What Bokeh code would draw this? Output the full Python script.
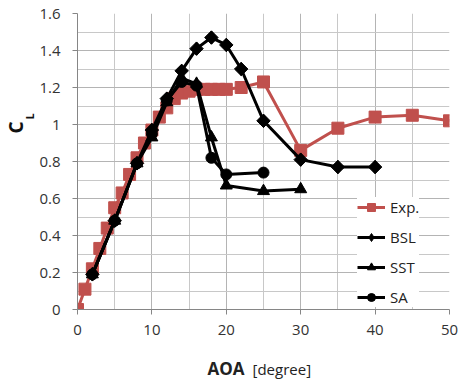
import math
from bokeh.plotting import figure
from bokeh.models import (Range1d, FixedTicker, CustomJSTickFormatter, Label,
                          Legend, LegendItem)
from bokeh.embed import file_html
from bokeh.resources import INLINE

# ---- data ----
exp_aoa = [0, 1, 2, 3, 4, 5, 6, 7, 8, 9, 10, 11, 12, 13, 14, 15, 16, 17, 18, 19, 20, 22, 25, 30, 35, 40, 45, 50]
exp_cl = [0.0, 0.11, 0.22, 0.33, 0.44, 0.55, 0.63, 0.73, 0.82, 0.90, 0.97, 1.04, 1.09, 1.14, 1.17, 1.18, 1.19, 1.19, 1.19, 1.19, 1.19, 1.20, 1.23, 0.86, 0.98, 1.04, 1.05, 1.02]

bsl_aoa = [2, 5, 8, 10, 12, 14, 16, 18, 20, 22, 25, 30, 35, 40]
bsl_cl = [0.19, 0.48, 0.79, 0.97, 1.14, 1.29, 1.41, 1.47, 1.43, 1.30, 1.02, 0.81, 0.77, 0.77]

sst_aoa = [2, 5, 8, 10, 12, 14, 16, 18, 20, 25, 30]
sst_cl = [0.19, 0.48, 0.79, 0.93, 1.12, 1.25, 1.22, 0.93, 0.67, 0.64, 0.65]

sa_aoa = [2, 5, 8, 10, 12, 14, 16, 18, 20, 25]
sa_cl = [0.19, 0.48, 0.79, 0.95, 1.13, 1.23, 1.21, 0.82, 0.73, 0.74]

x_ticks = [0, 10, 20, 30, 40, 50]
x_minor = [5, 15, 25, 35, 45]
y_ticks = [0, 0.2, 0.4, 0.6, 0.8, 1.0, 1.2, 1.4, 1.6]
y_minor = [0.1, 0.3, 0.5, 0.7, 0.9, 1.1, 1.3, 1.5]

RED = "#C0504D"
FONT = "Open Sans"

p = figure(width=468, height=380, output_backend="svg", toolbar_location=None,
           x_range=Range1d(0, 50), y_range=Range1d(0, 1.6),
           min_border_left=77, min_border_right=19, min_border_top=13,
           min_border_bottom=71)
p.outline_line_color = None

# axes
for ax in (p.xaxis[0], p.yaxis[0]):
    ax.axis_line_color = "#868686"
    ax.major_tick_line_color = "#868686"
    ax.major_tick_in = 0
    ax.major_tick_out = 5
    ax.minor_tick_line_color = None
    ax.major_label_text_font = FONT
    ax.major_label_text_font_size = "15px"
    ax.major_label_text_color = "#333333"

p.xaxis.ticker = FixedTicker(ticks=x_ticks, minor_ticks=x_minor)
p.yaxis.ticker = FixedTicker(ticks=y_ticks, minor_ticks=y_minor)
p.yaxis.formatter = CustomJSTickFormatter(code="return Number(tick.toFixed(1)).toString();")
p.xaxis.major_label_standoff = 10
p.yaxis.major_label_standoff = 12

p.xgrid.grid_line_color = "#b4b4b4"
p.ygrid.grid_line_color = "#b4b4b4"
p.xgrid.minor_grid_line_color = "#c8c8c8"
p.ygrid.minor_grid_line_color = "#c8c8c8"

# series
l_exp = p.line(exp_aoa, exp_cl, line_color=RED, line_width=3)
s_exp = p.scatter(exp_aoa, exp_cl, marker="square", size=12, color=RED)

l_bsl = p.line(bsl_aoa, bsl_cl, line_color="black", line_width=3)
s_bsl_key = p.scatter(bsl_aoa, bsl_cl, marker="diamond", size=13, color="black")
s_bsl = p.scatter(bsl_aoa, bsl_cl, marker="square", angle=math.pi / 4, size=9.5, color="black")

l_sst = p.line(sst_aoa, sst_cl, line_color="black", line_width=3)
s_sst = p.scatter(sst_aoa, sst_cl, marker="triangle", size=12, color="black")

l_sa = p.line(sa_aoa, sa_cl, line_color="black", line_width=3)
s_sa = p.scatter(sa_aoa, sa_cl, marker="circle", size=11, color="black")

legend = Legend(items=[
    LegendItem(label="Exp.", renderers=[l_exp, s_exp]),
    LegendItem(label="BSL", renderers=[l_bsl, s_bsl_key]),
    LegendItem(label="SST", renderers=[l_sst, s_sst]),
    LegendItem(label="SA", renderers=[l_sa, s_sa]),
], location=(280, 2))
legend.border_line_color = None
legend.background_fill_color = "white"
legend.background_fill_alpha = 1.0
legend.label_text_font = FONT
legend.label_text_font_size = "15px"
legend.label_text_color = "#222222"
legend.glyph_width = 28
legend.glyph_height = 20
legend.spacing = 10
legend.padding = 6
legend.margin = 0
legend.label_standoff = 5
p.add_layout(legend, "center")

# x-axis title: labels placed in the below side panel
p.add_layout(Label(x=167, y=-8, x_units="screen", y_units="screen", text="AOA",
                   text_align="right", text_baseline="middle",
                   text_font=FONT, text_font_size="17px", text_font_style="bold",
                   text_color="#222222"), "below")
p.add_layout(Label(x=175, y=12, x_units="screen", y_units="screen", text="[degree]",
                   text_align="left", text_baseline="middle",
                   text_font=FONT, text_font_size="15px", text_color="#222222"), "below")

# y-axis title C_L: C in the left side panel, subscript L in the right side panel
p.add_layout(Label(x=5.5, y=182, x_units="screen", y_units="screen", text="C",
                   angle=math.pi / 2, text_align="center", text_baseline="middle",
                   text_font=FONT, text_font_size="19px", text_font_style="bold",
                   text_color="#111111"), "left")
p.add_layout(Label(x=-420.5, y=193, x_units="screen", y_units="screen", text="L",
                   angle=math.pi / 2, text_align="center", text_baseline="middle",
                   text_font=FONT, text_font_size="11px", text_font_style="bold",
                   text_color="#111111"), "right")

open("out.html", "w").write(file_html(p, INLINE))
